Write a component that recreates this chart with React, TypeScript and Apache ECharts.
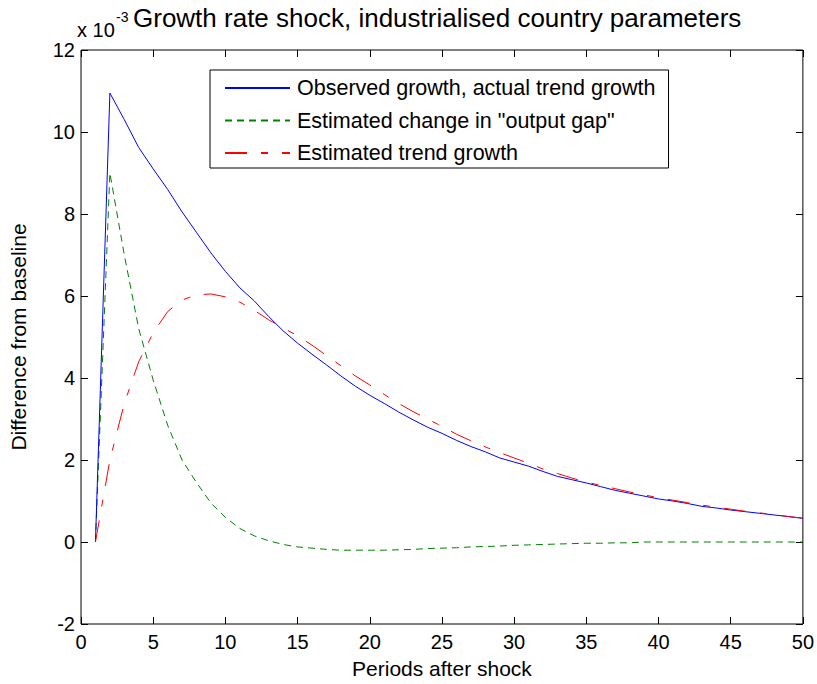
import React, { useEffect, useRef } from "react";
import * as echarts from "echarts";

// Periods after the shock
const periods: number[] = Array.from({ length: 50 }, (_, i) => i + 1);

// Observed growth, actual trend growth (x 10^-3)
const observedGrowth: number[] = [
  0, 10.95, 10.3, 9.62, 9.1, 8.6, 8.05, 7.55, 7.05, 6.6,
  6.2, 5.88, 5.5, 5.15, 4.85, 4.58, 4.32, 4.05, 3.8, 3.58,
  3.38, 3.17, 2.98, 2.8, 2.65, 2.48, 2.33, 2.2, 2.05, 1.95,
  1.85, 1.72, 1.6, 1.52, 1.44, 1.35, 1.26, 1.19, 1.12, 1.05,
  1.0, 0.94, 0.87, 0.83, 0.78, 0.74, 0.7, 0.66, 0.62, 0.58,
];

// Estimated change in "output gap" (x 10^-3)
const outputGapChange: number[] = [
  0, 9.0, 7.0, 5.2, 3.95, 2.85, 2.0, 1.45, 0.95, 0.6,
  0.33, 0.15, 0.03, -0.06, -0.12, -0.15, -0.18, -0.2, -0.2, -0.2,
  -0.2, -0.19, -0.18, -0.16, -0.15, -0.14, -0.12, -0.11, -0.1, -0.08,
  -0.07, -0.06, -0.05, -0.04, -0.03, -0.03, -0.02, -0.02, 0, 0,
  0, 0, 0, 0, 0, 0, 0, 0, 0, 0,
];

// Estimated trend growth (x 10^-3)
const trendGrowth: number[] = [
  0, 2.0, 3.38, 4.4, 5.1, 5.62, 5.9, 6.03, 6.05, 5.98,
  5.85, 5.65, 5.42, 5.22, 5.03, 4.8, 4.55, 4.3, 4.05, 3.83,
  3.6, 3.38, 3.18, 3.0, 2.82, 2.63, 2.47, 2.32, 2.18, 2.05,
  1.92, 1.78, 1.67, 1.56, 1.46, 1.38, 1.3, 1.22, 1.15, 1.08,
  1.02, 0.96, 0.9, 0.85, 0.8, 0.75, 0.71, 0.67, 0.62, 0.58,
];

const seriesNames = [
  "Observed growth, actual trend growth",
  'Estimated change in "output gap"',
  "Estimated trend growth",
];

const FONT = "'Liberation Sans', Arial, Helvetica, sans-serif";

const pairs = (ys: number[]) => periods.map((t, i) => [t, ys[i]]);

export default function App() {
  const ref = useRef<HTMLDivElement>(null);

  useEffect(() => {
    if (!ref.current) return;
    const chart = echarts.init(ref.current, undefined, { renderer: "svg" });

    const tickCommon = {
      axisLine: { show: false, onZero: false },
      axisTick: { show: true, inside: true, length: 7, lineStyle: { color: "#000", width: 1 } },
      splitLine: { show: false },
    };

    chart.setOption({
      animation: false,
      backgroundColor: "#fff",
      textStyle: { fontFamily: FONT, color: "#000" },
      title: {
        text: "Growth rate shock, industrialised country parameters",
        left: 133,
        top: 5,
        padding: 0,
        textStyle: { fontFamily: FONT, fontSize: 26, fontWeight: "normal", color: "#000" },
      },
      grid: {
        left: 76,
        right: 13,
        top: 50,
        bottom: 60,
        show: true,
        borderColor: "#000",
        borderWidth: 1,
        backgroundColor: "transparent",
      },
      legend: {
        orient: "vertical",
        left: 210,
        top: 70,
        data: seriesNames,
        backgroundColor: "#fff",
        borderColor: "#000",
        borderWidth: 1,
        padding: [7, 13, 4, 14],
        itemGap: 10.5,
        itemWidth: 65,
        itemHeight: 20,
        itemStyle: { opacity: 0 },
        textStyle: { fontFamily: FONT, fontSize: 21.5, color: "#000", padding: [0, 0, 0, 2] },
      },
      xAxis: [
        {
          type: "value",
          min: 0,
          max: 50,
          interval: 5,
          position: "bottom",
          name: "Periods after shock",
          nameLocation: "middle",
          nameGap: 34,
          nameTextStyle: { fontFamily: FONT, fontSize: 21, color: "#000" },
          axisLabel: { fontFamily: FONT, fontSize: 20, color: "#000", margin: 8 },
          ...tickCommon,
        },
        {
          type: "value",
          min: 0,
          max: 50,
          interval: 5,
          position: "top",
          axisLabel: { show: false },
          ...tickCommon,
        },
      ],
      yAxis: [
        {
          type: "value",
          min: -2,
          max: 12,
          interval: 2,
          position: "left",
          name: "Difference from baseline",
          nameLocation: "middle",
          nameGap: 52,
          nameTextStyle: { fontFamily: FONT, fontSize: 21, color: "#000" },
          axisLabel: { fontFamily: FONT, fontSize: 20, color: "#000", margin: 6 },
          ...tickCommon,
        },
        {
          type: "value",
          min: -2,
          max: 12,
          interval: 2,
          position: "right",
          axisLabel: { show: false },
          ...tickCommon,
        },
      ],
      graphic: [
        {
          type: "text",
          left: 77,
          top: 20,
          style: { text: "x 10", fontFamily: FONT, fontSize: 20, fill: "#000" },
        },
        {
          type: "text",
          left: 116,
          top: 10,
          style: { text: "-3", fontFamily: FONT, fontSize: 14, fill: "#000" },
        },
      ],
      series: [
        {
          name: seriesNames[0],
          type: "line",
          data: pairs(observedGrowth),
          showSymbol: false,
          symbol: "none",
          lineStyle: { color: "#0000ff", width: 1 },
          itemStyle: { color: "#0000ff" },
          z: 3,
        },
        {
          name: seriesNames[1],
          type: "line",
          data: pairs(outputGapChange),
          showSymbol: false,
          symbol: "none",
          lineStyle: { color: "#008000", width: 1, type: [7, 5] },
          itemStyle: { color: "#008000" },
          z: 2,
        },
        {
          name: seriesNames[2],
          type: "line",
          data: pairs(trendGrowth),
          showSymbol: false,
          symbol: "none",
          lineStyle: { color: "#ff0000", width: 1, type: [22, 14, 7, 14] },
          itemStyle: { color: "#ff0000" },
          z: 4,
        },
      ],
    });

    return () => chart.dispose();
  }, []);

  return (
    <div
      ref={ref}
      style={{ position: "fixed", left: 0, top: 0, width: 817, height: 684, background: "#fff" }}
    />
  );
}
